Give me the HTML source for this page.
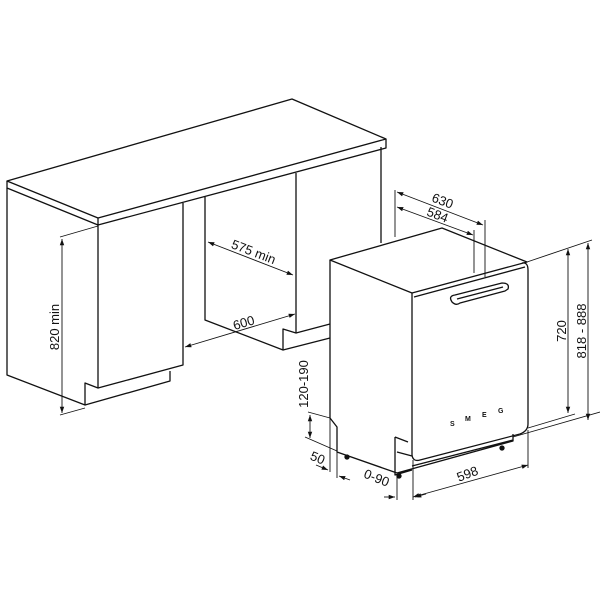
<!DOCTYPE html>
<html><head><meta charset="utf-8"><style>
html,body{margin:0;padding:0;background:#fff;}
svg{display:block}
text{font-family:"Liberation Sans",Arial,sans-serif;font-size:13px;fill:#111}
</style></head><body>
<svg width="600" height="600" viewBox="0 0 600 600" xmlns="http://www.w3.org/2000/svg">
<defs>
<marker id="a" viewBox="0 0 10 10" refX="10" refY="5" markerWidth="7" markerHeight="7" orient="auto-start-reverse"><path d="M0,1.5 L10,5 L0,8.5 z" fill="#111"/></marker>
</defs>
<g fill="none" stroke="#111" stroke-width="1.3" stroke-linejoin="round">
<path d="M7,181 L292,99 L386,139 L98,218 Z" fill="#fff"/>
<path d="M7,181 L7,188 L98,225 L386,148 L386,139 M98,218 L98,225"/>
<path d="M7,188 L7,375 L85,405 L85,383 L98,388 L98,225"/>
<path d="M85,405 L170,381 L170,371 M98,388 L183,365 L183,203"/>
<path d="M205,197 L205,320 L283,350 L283,329 L296,333 L296,173"/>
<path d="M296,333 L330,324 M283,350 L330,338 M381,147 L381,243"/>
<path d="M330,260 L442,228 L527,262 L412,293 Z" fill="#fff"/>
<path d="M330,260 L330,418 L337,427 L337,452 L397,473"/>
<path d="M412,293 L412,455 Q413,462 420,460 L520,434 Q528,431 528,424 L528,270 Q528,262 522,263"/>
<path d="M414,297 L525,267"/>
<path d="M452,302 Q448,296 455,295 L502,283 Q510,283 508,289 L505,291 L460,303 Q456,306 452,302 Z"/>
<path d="M457,299 L503,287"/>
<path d="M395,437 L408,442 M395,437 L395,475 L412,470 M397,452 L412,456 M397,473 L513,441 L513,434 M412,466 L513,440"/>
<circle cx="399" cy="476" r="2" fill="#111"/><circle cx="347" cy="457" r="2" fill="#111"/><circle cx="502" cy="448" r="2" fill="#111"/>
</g>
<g>
<text x="450" y="426" style="font-size:7px;font-weight:bold">S</text><text x="465" y="421" style="font-size:7px;font-weight:bold">M</text><text x="482" y="417" style="font-size:7px;font-weight:bold">E</text><text x="498" y="413" style="font-size:7px;font-weight:bold">G</text>
</g>
<g fill="none" stroke="#111" stroke-width="0.9">
<path d="M60,237 L98,226 M60,415 L85,408"/>
<path d="M62,239 L62,413" marker-start="url(#a)" marker-end="url(#a)"/>
<path d="M208,242 L293,275" marker-start="url(#a)" marker-end="url(#a)"/>
<path d="M185,347 L295,314" marker-start="url(#a)" marker-end="url(#a)"/>
<path d="M395,190 L395,237 M485,220 L485,277 M474,230 L474,273"/>
<path d="M397,192 L483,225" marker-start="url(#a)" marker-end="url(#a)"/>
<path d="M397,207 L473,235" marker-start="url(#a)" marker-end="url(#a)"/>
<path d="M527,262 L592,240 M528,428 L575,414 M513,437 L600,412"/>
<path d="M568,249 L568,413" marker-start="url(#a)" marker-end="url(#a)"/>
<path d="M588,243 L588,420" marker-start="url(#a)" marker-end="url(#a)"/>
<path d="M413,460 L413,500 M528,430 L528,468"/>
<path d="M413,497 L528,465" marker-start="url(#a)" marker-end="url(#a)"/>
<path d="M397,475 L397,500"/>
<path d="M384,497 L395,497" marker-end="url(#a)"/>
<path d="M426,494 L415,497" marker-end="url(#a)"/>
<path d="M330,418 L330,472 M337,452 L337,478"/>
<path d="M316,465 L328,470" marker-end="url(#a)"/>
<path d="M350,480 L339,476" marker-end="url(#a)"/>
<path d="M308,412 L330,418 M305,437 L337,451"/>
<path d="M310,415 L310,438" marker-start="url(#a)" marker-end="url(#a)"/>
</g>
<text transform="translate(59,327) rotate(-90)" text-anchor="middle">820 min</text>
<text transform="translate(252,256) rotate(21)" text-anchor="middle">575 min</text>
<text transform="translate(245,327) rotate(-17)" text-anchor="middle">600</text>
<text transform="translate(441,205) rotate(21)" text-anchor="middle">630</text>
<text transform="translate(436,219) rotate(21)" text-anchor="middle">584</text>
<text transform="translate(566,331) rotate(-90)" text-anchor="middle">720</text>
<text transform="translate(586,331) rotate(-90)" text-anchor="middle">818 - 888</text>
<text transform="translate(469,478) rotate(-21)" text-anchor="middle">598</text>
<text transform="translate(375,482) rotate(22)" text-anchor="middle">0-90</text>
<text transform="translate(316,462) rotate(22)" text-anchor="middle">50</text>
<text transform="translate(308,384) rotate(-90)" text-anchor="middle">120-190</text>
</svg>
</body></html>
